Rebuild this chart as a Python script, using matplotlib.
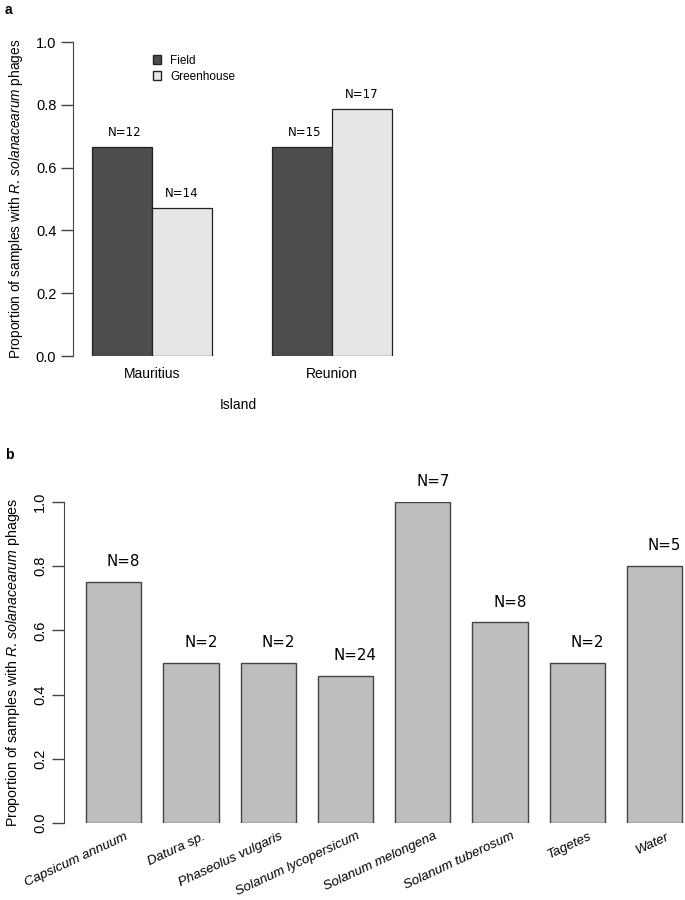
import matplotlib
matplotlib.use("Agg")
import matplotlib.pyplot as plt
from matplotlib.patches import Patch

plt.rcParams['font.family'] = ['Liberation Sans', 'DejaVu Sans']
plt.rcParams['mathtext.fontset'] = 'custom'
plt.rcParams['mathtext.rm'] = 'Liberation Sans'
plt.rcParams['mathtext.it'] = 'Liberation Sans:italic'

# panel a data
islands = ["Mauritius", "Reunion"]
field = [0.667, 0.667]
greenhouse = [0.471, 0.786]
field_n = ["N=12", "N=15"]
greenhouse_n = ["N=14", "N=17"]

# panel b data
plants = ["Capsicum annuum", "Datura sp.", "Phaseolus vulgaris", "Solanum lycopersicum",
          "Solanum melongena", "Solanum tuberosum", "Tagetes", "Water"]
plant_prop = [0.75, 0.5, 0.5, 0.458, 1.0, 0.625, 0.5, 0.8]
plant_n = ["N=8", "N=2", "N=2", "N=24", "N=7", "N=8", "N=2", "N=5"]

ylab = r"Proportion of samples with $\mathit{R.}\,\mathit{solanacearum}$ phages"
W, H = 685, 900


def px_axes(fig, left, right, top, bottom):
  return fig.add_axes([left / W, (H - bottom) / H, (right - left) / W, (bottom - top) / H])


def style_axis(ax):
  for s in ["top", "right", "bottom"]:
    ax.spines[s].set_visible(False)
  ax.spines["left"].set_color("#444444")
  ax.spines["left"].set_bounds(0, 1)
  ax.set_ylim(0, 1)
  ax.set_yticks([0, 0.2, 0.4, 0.6, 0.8, 1.0])
  ax.set_yticklabels(["0.0", "0.2", "0.4", "0.6", "0.8", "1.0"])
  ax.tick_params(axis="y", length=9, width=1, color="#444444", labelsize=10.5, pad=3)
  ax.tick_params(axis="x", length=0)


fig = plt.figure(figsize=(6.85, 9), dpi=100)

# ---- panel a
ax = px_axes(fig, 73, 404, 42, 356)
style_axis(ax)
ax.set_xlim(0.683, 6.2)
field_x = [1.5, 4.5]
green_x = [2.5, 5.5]
ax.bar(field_x, field, width=1, color="#4d4d4d", edgecolor="#222222", linewidth=0.9, label="Field")
ax.bar(green_x, greenhouse, width=1, color="#e6e6e6", edgecolor="#222222", linewidth=0.9, label="Greenhouse")
for x, v, t in zip(field_x, field, field_n):
  ax.text(x + 0.05, v + 0.025, t, ha="center", va="bottom", fontsize=8.5, family="DejaVu Sans")
for x, v, t in zip(green_x, greenhouse, greenhouse_n):
  ax.text(x, v + 0.025, t, ha="center", va="bottom", fontsize=8.5, family="DejaVu Sans")
ax.set_xticks([2, 5])
ax.set_xticklabels(islands, fontsize=10)
ax.tick_params(axis="x", pad=8)
ax.set_xlabel("Island", fontsize=10, labelpad=12)
ax.set_ylabel(ylab, fontsize=9.9, labelpad=8)
handles = [Patch(facecolor="#4d4d4d", edgecolor="#222222", label="Field"),
           Patch(facecolor="#e6e6e6", edgecolor="#222222", label="Greenhouse")]
ax.legend(handles=handles, loc="upper left", bbox_to_anchor=(1.93, 0.975), bbox_transform=ax.transData,
          frameon=False, fontsize=8.5, handlelength=0.7, handleheight=0.7, handletextpad=0.8,
          labelspacing=0.35, borderaxespad=0)
fig.text(5 / W, 1 - 10 / H, "a", fontsize=10, fontweight="bold", va="center")

# ---- panel b
bx = px_axes(fig, 64, 685, 502, 823)
style_axis(bx)
bx.set_xlim(0, 11.25)
centers = [0.9 + 1.4 * i for i in range(len(plants))]
bx.bar(centers, plant_prop, width=1, color="#bebebe", edgecolor="#444444", linewidth=1)
for x, v, t in zip(centers, plant_prop, plant_n):
  bx.text(x + 0.18, v + 0.04, t, ha="center", va="bottom", fontsize=10.8, family="DejaVu Sans")
bx.set_xticks([])
for x, name in zip(centers, plants):
  bx.text(x + 0.25, -0.04, name, rotation=25, rotation_mode="anchor", ha="right", va="center",
          fontsize=9.6, style="italic", clip_on=False)
bx.tick_params(axis="y", labelrotation=90)
for lab in bx.get_yticklabels():
  lab.set_va("center")
bx.set_ylabel(ylab, fontsize=10.2, labelpad=8)
fig.text(5 / W, 1 - 455 / H, "b", fontsize=10, fontweight="bold", va="center")

fig.savefig("out.png", dpi=100)
